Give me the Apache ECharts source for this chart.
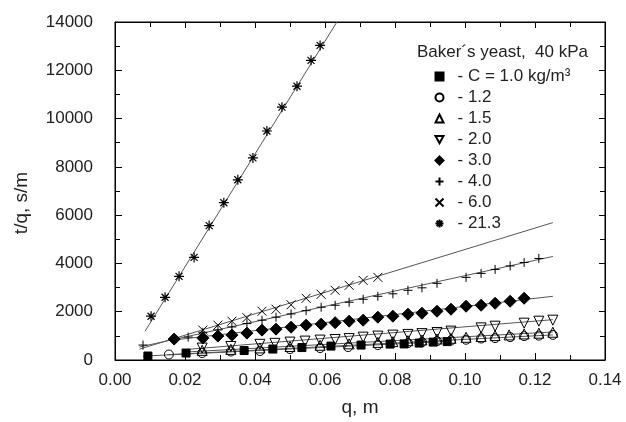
<!DOCTYPE html>
<html>
<head>
<meta charset="utf-8">
<script src="https://cdn.jsdelivr.net/npm/echarts@6/dist/echarts.min.js"></script>
<style>
  html, body { margin: 0; padding: 0; background: #fff; }
  #chart { width: 626px; height: 422px; }
</style>
</head>
<body>
<div id="chart"></div>
<script>
// tick labels
const xTickLabels = ['0.00', '0.02', '0.04', '0.06', '0.08', '0.10', '0.12', '0.14'];
const yTickLabels = ['0', '2000', '4000', '6000', '8000', '10000', '12000', '14000'];

// legend names
const seriesNames = ['- C = 1.0 kg/m³', '- 1.2', '- 1.5', '- 2.0', '- 3.0', '- 4.0', '- 6.0', '- 21.3'];

// measured points, q (m) and t/q (s/m)
const q10 = [0.0094, 0.0203, 0.0369, 0.0451, 0.0534, 0.0617, 0.0703, 0.0786, 0.0826, 0.0869, 0.0909, 0.0949];
const v10 = [165, 289, 392, 454, 515, 577, 619, 660, 665, 701, 742, 763];

const q12 = [0.0154, 0.0249, 0.0331, 0.0414, 0.05, 0.0586, 0.0666, 0.0751, 0.0837, 0.0877, 0.092, 0.096, 0.1003, 0.1046, 0.1086, 0.1129, 0.1169, 0.1211, 0.1251];
const v12 = [227, 289, 350, 371, 454, 495, 536, 619, 700, 740, 780, 810, 840, 890, 907, 948, 990, 1010, 1040];

const q15 = [0.0249, 0.0331, 0.0414, 0.05, 0.0586, 0.0669, 0.0751, 0.0794, 0.0837, 0.0877, 0.092, 0.096, 0.1003, 0.1046, 0.1086, 0.1126, 0.1169, 0.1211, 0.1251];
const v15 = [400, 440, 500, 560, 610, 670, 730, 760, 800, 830, 870, 900, 940, 970, 1010, 1040, 1080, 1110, 1150];

const q20 = [0.0249, 0.0331, 0.0414, 0.0457, 0.05, 0.0543, 0.0586, 0.0629, 0.0669, 0.0709, 0.0751, 0.0794, 0.0837, 0.0877, 0.092, 0.096, 0.1046, 0.1086, 0.1169, 0.1211, 0.1251];
const v20 = [495, 560, 650, 690, 742, 783, 825, 850, 887, 948, 990, 1031, 1060, 1093, 1140, 1196, 1330, 1400, 1526, 1608, 1650];

const q30 = [0.0169, 0.0251, 0.0294, 0.0334, 0.0377, 0.042, 0.046, 0.0503, 0.0546, 0.0589, 0.0629, 0.0669, 0.0709, 0.0751, 0.0794, 0.0837, 0.0877, 0.092, 0.096, 0.1003, 0.1046, 0.1086, 0.1129, 0.1169];
const v30 = [866, 907, 990, 1031, 1113, 1237, 1278, 1361, 1443, 1485, 1546, 1608, 1649, 1773, 1814, 1897, 1938, 2021, 2103, 2227, 2268, 2351, 2433, 2557];

const q40 = [0.008, 0.0209, 0.0251, 0.0294, 0.0334, 0.0377, 0.042, 0.046, 0.0503, 0.0546, 0.0589, 0.0629, 0.0669, 0.0709, 0.0751, 0.0794, 0.0837, 0.0877, 0.092, 0.1003, 0.1046, 0.1086, 0.1129, 0.1169, 0.1211];
const v40 = [619, 950, 1150, 1246, 1370, 1509, 1649, 1773, 1909, 2045, 2186, 2268, 2392, 2515, 2639, 2742, 2887, 2990, 3175, 3423, 3588, 3753, 3897, 4041, 4206];

const q60 = [0.0251, 0.0294, 0.0334, 0.0377, 0.042, 0.046, 0.0503, 0.0546, 0.0589, 0.0629, 0.0669, 0.0709, 0.0751];
const v60 = [1237, 1443, 1608, 1753, 2020, 2103, 2289, 2557, 2721, 2887, 3093, 3299, 3423];

const q213 = [0.0103, 0.0143, 0.0183, 0.0226, 0.0269, 0.0311, 0.0351, 0.0394, 0.0434, 0.0477, 0.052, 0.056, 0.0586];
const v213 = [1814, 2598, 3464, 4250, 5567, 6515, 7464, 8371, 9485, 10474, 11340, 12412, 13031];

// fitted straight lines, ends
const fit10 = [[0.008, 160], [0.095, 770]];
const fit12 = [[0.015, 220], [0.1251, 1040]];
const fit15 = [[0.02, 330], [0.1251, 1160]];
const fit20 = [[0.02, 430], [0.1251, 1670]];
const fit30 = [[0.0169, 830], [0.1251, 2639]];
const fit40 = [[0.007, 540], [0.1251, 4289]];
const fit60 = [[0.007, 450], [0.1251, 5691]];
const fit213 = [[0.0086, 1196], [0.0634, 14000]];

const FONT = '"Liberation Sans", Arial, sans-serif';
const INK = '#000';

const SYM_DOWN = 'path://M0,0L10,0L5,9Z';
const SYM_PLUS = 'path://M5,0L5,10M0,5L10,5';
const SYM_CROSS = 'path://M0,0L10,10M10,0L0,10';
const SYM_STAR = 'path://M5,0L5,10M0,5L10,5M1.5,1.5L8.5,8.5M8.5,1.5L1.5,8.5';
const symbols = ['rect', 'circle', 'triangle', SYM_DOWN, 'diamond', SYM_PLUS, SYM_CROSS, SYM_STAR];

function zip(qs, vs) {
  return qs.map((q, i) => [q, vs[i]]);
}

function markers(name, qs, vs, symbol, size, filled, width) {
  return {
    name,
    type: 'scatter',
    data: zip(qs, vs),
    symbol,
    symbolSize: size,
    z: 3,
    itemStyle: {
      color: filled ? INK : 'none',
      borderColor: INK,
      borderWidth: width || 1,
      opacity: 1,
    },
  };
}

function fitLine(name, pts, onFrame) {
  return {
    name,
    type: 'line',
    data: pts,
    symbol: 'none',
    silent: true,
    z: 2,
    xAxisIndex: onFrame ? 1 : 0,
    yAxisIndex: onFrame ? 1 : 0,
    lineStyle: { color: '#555', width: 1 },
  };
}

// look the label up by value, blank for anything off the list
function xLabel(val) {
  const s = xTickLabels[Math.round(val / 0.02)];
  return s === undefined ? '' : s;
}
function yLabel(val) {
  const s = yTickLabels[Math.round(val / 2000)];
  return s === undefined ? '' : s;
}

const chart = echarts.init(document.getElementById('chart'));

const frameLine = { show: true, onZero: false, lineStyle: { color: INK, width: 1 } };
const tickStyle = { color: INK, width: 1 };

chart.setOption({
  animation: false,
  grid: { left: 115, right: 21, top: 22, bottom: 60, show: true, borderColor: INK, borderWidth: 1 },
  legend: {
    data: seriesNames.map((n, i) => ({ name: n, icon: symbols[i] })),
    orient: 'vertical',
    left: 433,
    top: 68,
    padding: 0,
    itemWidth: 8,
    itemHeight: 8,
    itemGap: 4,
    selectedMode: false,
    textStyle: { fontFamily: FONT, fontSize: 17, color: '#222', lineHeight: 17, padding: [0, 0, 0, 9] },
  },
  graphic: [
    {
      type: 'text',
      x: 417,
      y: 52,
      style: { text: 'Baker´s yeast,  40 kPa', font: '17px ' + FONT, fill: '#222', textVerticalAlign: 'middle' },
    },
    {
      type: 'text',
      x: 22,
      y: 203,
      rotation: Math.PI / 2,
      style: { text: 't/q, s/m', font: '19px ' + FONT, fill: '#222', textAlign: 'center', textVerticalAlign: 'middle' },
    },
  ],
  xAxis: [
    {
      type: 'value',
      min: 0,
      max: 0.14,
      interval: 0.02,
      axisLine: frameLine,
      axisTick: { inside: true, length: 7, lineStyle: tickStyle },
      minorTick: { show: true, splitNumber: 2, length: 5, lineStyle: tickStyle },
      splitLine: { show: false },
      axisLabel: { margin: 12, fontFamily: FONT, fontSize: 17, color: '#222', formatter: xLabel },
      name: 'q, m',
      nameLocation: 'middle',
      nameGap: 38,
      nameTextStyle: { fontFamily: FONT, fontSize: 19, color: '#222' },
    },
    {
      type: 'value',
      position: 'top',
      min: 0,
      max: 0.14,
      interval: 0.02,
      axisLine: frameLine,
      axisTick: { inside: true, length: 6, lineStyle: tickStyle },
      minorTick: { show: true, splitNumber: 2, length: 5, lineStyle: tickStyle },
      splitLine: { show: false },
      axisLabel: { show: false },
    },
  ],
  yAxis: [
    {
      type: 'value',
      min: 0,
      max: 14000,
      interval: 2000,
      axisLine: frameLine,
      axisTick: { inside: true, length: 7, lineStyle: tickStyle },
      minorTick: { show: true, splitNumber: 2, length: 5, lineStyle: tickStyle },
      splitLine: { show: false },
      axisLabel: { margin: 22, fontFamily: FONT, fontSize: 17, color: '#222', formatter: yLabel },
    },
    {
      type: 'value',
      position: 'right',
      min: 0,
      max: 14000,
      interval: 2000,
      axisLine: frameLine,
      axisTick: { inside: true, length: 6, lineStyle: tickStyle },
      minorTick: { show: true, splitNumber: 2, length: 5, lineStyle: tickStyle },
      splitLine: { show: false },
      axisLabel: { show: false },
    },
  ],
  series: [
    fitLine('fit 1.0', fit10),
    fitLine('fit 1.2', fit12),
    fitLine('fit 1.5', fit15),
    fitLine('fit 2.0', fit20),
    fitLine('fit 3.0', fit30),
    fitLine('fit 4.0', fit40),
    fitLine('fit 6.0', fit60),
    fitLine('fit 21.3', fit213, true),
    markers(seriesNames[0], q10, v10, symbols[0], 8, true),
    markers(seriesNames[1], q12, v12, symbols[1], 9, false),
    markers(seriesNames[2], q15, v15, symbols[2], 10, false),
    markers(seriesNames[3], q20, v20, symbols[3], 10, false),
    markers(seriesNames[4], q30, v30, symbols[4], 12, true),
    markers(seriesNames[5], q40, v40, symbols[5], 9, false),
    markers(seriesNames[6], q60, v60, symbols[6], 9, false),
    markers(seriesNames[7], q213, v213, symbols[7], 10, false, 1.2),
  ],
});
</script>
</body>
</html>
